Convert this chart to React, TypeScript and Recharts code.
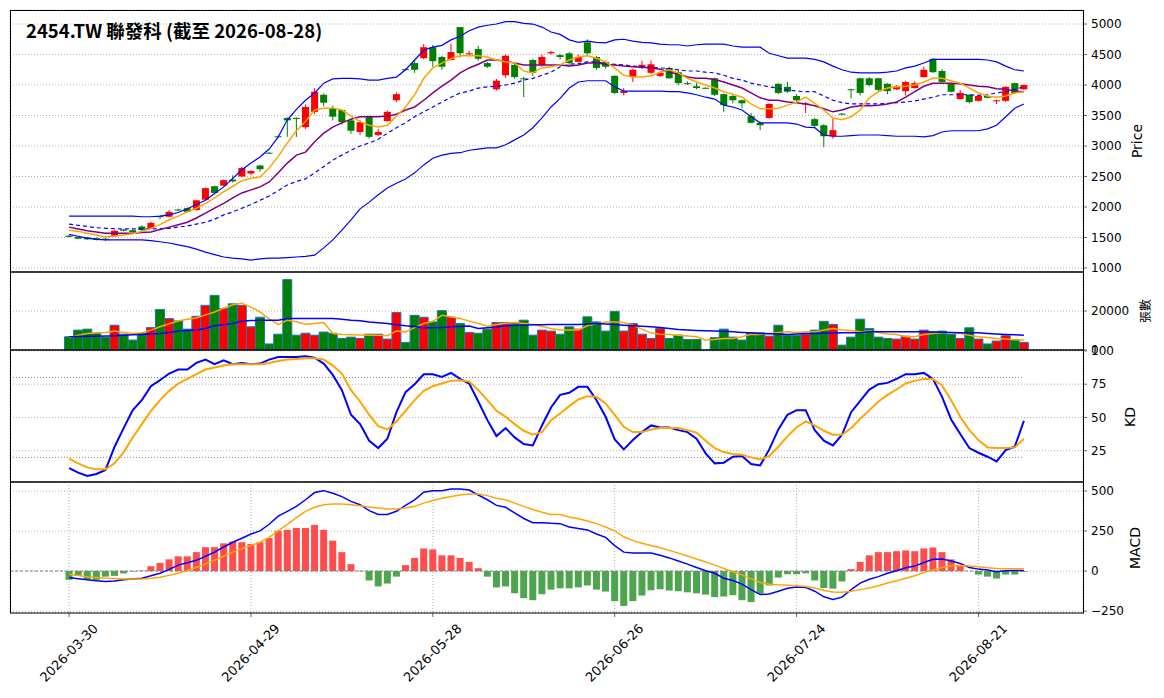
import React from "react";
import { ComposedChart, Bar, Line, XAxis, YAxis, CartesianGrid, Cell, ReferenceLine } from "recharts";

const tickIdx = [0, 20, 40, 60, 80, 100];
const tickLabels = ["2026-03-30", "2026-04-29", "2026-05-28", "2026-06-26", "2026-07-24", "2026-08-21"];

const open = [1530,1510,1500,1490,1480,1530,1630,1620,1680,1650, 1850,1840,1960,1980,1950,2120,2340,2350,2450,2500, 2550,2680,2890,3160,3460,3460,3310,3560,3840,3620, 3590,3420,3230,3480,3180,3410,3750,4260,4360,4440, 4620,4460,4410,4950,4510,4590,4360,3930,4160,4330, 4110,4410,4330,4520,4490,4520,4380,4700,4460,4380, 4150,3870,4130,4280,4200,4150,4280,4210,4030,3980, 3955,4110,3850,3820,3750,3490,3380,3460,4020,3970, 3820,3680,3440,3340,3160,3530,3930,4110,4110,4110, 4020,3930,3900,3950,4130,4430,4230,4030,3770,3840, 3740,3820,3740,3740,4030,3930];
const close = [1510,1480,1470,1460,1470,1610,1610,1590,1620,1740, 1840,1920,1950,1920,2110,2310,2230,2440,2420,2640, 2590,2620,2880,3150,3420,3450,3640,3890,3710,3480, 3390,3250,3390,3150,3230,3560,3850,4250,4250,4620, 4390,4300,4540,4520,4520,4430,4300,4070,4480,4130, 4100,4200,4460,4540,4460,4360,4460,4520,4280,4300, 3870,3900,4250,4330,4340,4200,4110,4030,4020,3950, 3950,3840,3670,3750,3700,3380,3340,3690,3870,3890, 3750,3700,3330,3160,3260,3520,3920,3870,4000,3920, 3900,3980,4050,4030,4250,4210,4050,3890,3870,3720, 3820,3790,3750,3970,3870,4000];
const high = [1540,1520,1510,1500,1490,1620,1640,1630,1700,1760, 1860,1950,1970,1990,2120,2320,2350,2450,2520,2660, 2600,2690,2900,3170,3470,3470,3680,3950,3860,3660, 3600,3450,3420,3500,3280,3580,3880,4270,4400,4670, 4660,4480,4680,4950,4560,4640,4380,4100,4500,4370, 4130,4430,4500,4560,4510,4540,4500,4750,4480,4400, 4160,3950,4270,4400,4400,4230,4300,4250,4060,4030, 3960,4120,3860,3840,3760,3540,3400,3700,4030,4050, 3850,3720,3460,3360,3450,3540,3940,4120,4130,4120, 4030,4000,4070,4060,4300,4440,4260,4040,3920,3850, 3830,3830,3760,3980,4040,4010];
const low = [1500,1470,1460,1450,1440,1520,1600,1580,1610,1640, 1800,1830,1930,1910,1940,2110,2210,2340,2400,2490, 2520,2580,2870,3140,3150,3150,3280,3520,3650,3420, 3350,3200,3180,3120,3160,3400,3720,4240,4200,4420, 4300,4250,4400,4450,4480,4400,4280,3910,4120,4100, 3800,4150,4300,4500,4420,4300,4370,4500,4250,4270, 3850,3830,4050,4260,4180,4130,4100,4000,4000,3930, 3940,3820,3560,3700,3620,3370,3260,3450,3850,3870, 3730,3540,3300,2980,3120,3510,3780,3830,3980,3900, 3850,3920,3830,3940,4120,4200,4030,3880,3760,3700, 3730,3780,3690,3720,3860,3920];
const ma5 = [1620,1600,1570,1540,1510,1520,1540,1560,1600,1650, 1710,1790,1850,1920,1980,2060,2150,2250,2340,2430, 2470,2490,2640,2830,3050,3250,3400,3590,3620,3625, 3590,3490,3400,3340,3310,3340,3490,3640,3840,4110, 4280,4360,4430,4480,4480,4480,4460,4410,4380,4360, 4230,4200,4280,4300,4330,4410,4460,4480,4440,4380, 4280,4160,4130,4130,4150,4210,4250,4200,4110,4050, 4000,3950,3890,3850,3800,3690,3610,3610,3620,3670, 3720,3800,3700,3590,3460,3430,3480,3590,3790,3890, 3950,3970,3980,4000,4050,4110,4110,4070,4030,3950, 3870,3820,3800,3820,3870,3890];
const ma10 = [1670,1640,1610,1590,1570,1570,1570,1570,1580,1590, 1630,1670,1710,1750,1820,1900,1980,2060,2150,2230, 2280,2330,2410,2560,2720,2850,2900,3070,3210,3310, 3380,3440,3480,3480,3480,3490,3520,3590,3640,3750, 3870,3980,4080,4200,4280,4340,4410,4410,4390,4360, 4330,4330,4330,4330,4330,4310,4330,4360,4360,4340, 4330,4310,4300,4290,4280,4260,4210,4180,4130,4110, 4110,4090,4050,4000,3950,3870,3790,3750,3750,3720, 3710,3690,3660,3610,3560,3590,3640,3660,3660,3670, 3690,3720,3800,3890,3980,4030,4030,4030,4020,4000, 3980,3970,3940,3930,3900,3890];
const bbMid = [1720,1700,1680,1660,1650,1645,1640,1640,1640,1640, 1645,1650,1670,1690,1720,1750,1800,1870,1920,1980, 2040,2110,2180,2270,2360,2420,2460,2560,2660,2770, 2850,2930,3000,3050,3110,3210,3300,3380,3480,3560, 3640,3720,3800,3870,3900,3950,3970,3980,4000,4030, 4080,4110,4160,4210,4300,4340,4350,4380,4380,4350, 4340,4330,4310,4300,4290,4280,4270,4250,4230,4230, 4210,4200,4160,4110,4080,4030,4000,3970,3950,3920, 3900,3890,3890,3820,3750,3710,3690,3690,3690,3690, 3700,3710,3720,3740,3770,3800,3840,3840,3840,3840, 3830,3840,3870,3890,3930,3970];
const bbUp = [1850,1850,1850,1850,1850,1850,1850,1850,1840,1840, 1850,1870,1910,1970,2040,2110,2220,2330,2470,2610, 2720,2820,2950,3150,3430,3600,3750,3870,4030,4100, 4110,4110,4100,4080,4080,4110,4130,4250,4410,4570, 4620,4650,4740,4800,4890,4950,4980,5000,5040,5040, 5010,5000,4950,4870,4830,4740,4700,4720,4700,4690, 4740,4750,4720,4700,4690,4670,4660,4660,4640,4660, 4670,4670,4670,4640,4620,4620,4620,4520,4480,4440, 4440,4440,4420,4380,4310,4250,4210,4200,4200,4200, 4210,4230,4280,4310,4360,4420,4420,4420,4420,4420, 4420,4410,4380,4310,4250,4230];
const bbLow = [1550,1520,1490,1470,1460,1460,1460,1460,1460,1450, 1430,1410,1380,1350,1310,1260,1220,1180,1160,1150, 1130,1150,1160,1160,1170,1180,1190,1210,1330,1460, 1620,1790,1970,2080,2200,2310,2390,2460,2560,2690, 2800,2850,2880,2890,2930,2950,2970,2970,3020,3100, 3180,3300,3460,3640,3780,3950,4050,4070,4070,4070, 3970,3900,3900,3900,3900,3900,3890,3890,3870,3840, 3800,3770,3670,3640,3590,3480,3380,3380,3380,3380, 3360,3310,3300,3180,3160,3160,3170,3180,3180,3180, 3170,3160,3160,3160,3150,3170,3230,3250,3250,3250, 3250,3280,3340,3480,3620,3690];
const volume = [6800,10200,10700,8500,6600,12700,8100,5100,8500,11500, 20800,16100,14900,10700,17300,22900,28000,21200,23700,22900, 11900,16800,3100,8100,36100,7600,8600,7600,9200,8600, 5900,6600,5900,8100,8100,5600,19200,3900,17800,16800, 14400,20200,16800,13600,9000,8600,10700,14100,14100,14100, 15300,7600,10200,9700,8100,11900,10700,17000,14400,9700, 19800,9700,13600,8100,5900,11000,5900,7600,5400,5400, 0,6300,10700,6600,5100,8800,8800,7100,12700,7600, 7600,8000,10200,14700,13100,2500,6600,15800,11000,6600, 5900,5600,7100,5600,10200,9300,9700,8100,5900,11400, 5600,3100,4600,7300,5100,3900];
const volMa5 = [6300,7600,8500,8800,9000,9800,9000,8500,8800,10200, 11900,13500,14900,15800,16400,18000,19500,21500,23200,24000, 22000,19500,16000,13000,15300,14500,13200,13600,14100,8500, 8000,7800,7700,7600,7500,7300,9700,9300,11500,13600, 14700,17800,17000,16100,14800,13600,12200,13100,13700,14100, 13600,13100,12000,11000,10200,10200,10200,12400,13500,14400, 14400,14100,12700,10700,8800,8100,7900,7600,7200,6800, 5100,5400,5900,5900,6800,8100,8000,8500,9000,9300, 9000,9300,9300,10200,11000,10200,10000,9300,9700,9000, 8200,8000,6800,6800,8000,8500,8800,9000,8500,7500, 6800,6400,5900,5600,5300,5100];
const volMa20 = [6800,6900,7000,7100,7200,7300,7600,7800,8000,8300, 8500,9000,9700,10000,10200,11000,12400,13000,13600,14700, 15100,15200,15300,15300,16100,16100,16100,16100,16100,16100, 15800,15300,15000,14400,14000,13600,13000,12400,12000,11400, 11400,11600,11900,12100,12300,11000,11400,11800,12400,12600, 12700,12900,13000,13100,13100,13100,13100,13300,13600,13300, 13100,12700,12400,12200,11900,11500,11000,10500,10200,10000, 9900,9800,9600,9300,9000,8800,8500,8300,8200,8000, 8200,8400,8500,8600,8700,8800,8900,9000,9300,9300, 9300,9300,9300,9300,9300,9200,9100,9000,8900,8800, 8800,8500,8200,8000,7800,7600];
const kVals = [12,8.5,6,7.5,10.5,28,42,55.5,63,73.5, 78,83,86,86,91,93.5,90,93,90,91, 90,90.5,93.5,95.5,95.5,95.5,96,95,90.5,82, 70.5,52,45,32.5,27,34,54,69,75,82.5, 82.5,80.5,83.5,79,75.5,62,48,36,42,35, 30,29,44,57.5,67,68.5,73,73,63,50.5, 33.5,26,33,39,44,42.5,42.5,40.5,39,34, 23,15.5,16,20.5,21,15,14,26,41,52, 55.5,55.5,40.5,32.5,29,37,54,62.5,71,75, 76,79,82.5,82.5,83.5,79,65.5,48.5,37.5,27, 23.5,20.5,17,25.5,28,47.5];
const dVals = [19,15.5,12.5,11,11,15.5,24,35,45,55, 63,70,75.5,79,82.5,86,87.5,89,90,90, 90,90,91,92.5,93.5,94,94.5,94.5,93.5,89, 83,70.5,62,52,43.5,41,47,55,63,70, 73.5,75.5,77.5,78,77,70.5,63,55,50.5,45, 40,37,39,48,53,58.5,63.5,66,65.5,60.5, 52,43,39,39,41,42,42,42,40.5,38.5, 32.5,27,24,22.5,22,20,18.5,21,28,36, 42.5,47,44,40,37,37,42,49,55.5,62, 67,71,75.5,77.5,79,79,74,63,50.5,40.5, 33,27.5,27,27,27.5,34];
const macd = [-41,-48,-55,-60,-65,-62,-55,-50,-45,-30, -14,10,37,52,67,92,118,150,180,205, 231,251,292,343,373,404,445,490,502,486, 465,435,414,377,353,353,373,410,445,492, 502,502,512,512,506,475,445,410,398,363, 328,302,302,298,296,275,265,257,231,210, 159,118,112,112,112,98,82,63,43,22, 2,-14,-45,-59,-82,-116,-147,-143,-126,-108, -100,-102,-126,-161,-177,-163,-116,-75,-51,-35, -14,2,20,31,53,73,75,63,47,22, 12,6,-4,2,4,4];
const signal = [-20,-28,-35,-40,-45,-47,-49,-49,-49,-45, -39,-27,-14,4,22,45,67,92,118,140, 159,180,210,251,292,333,373,398,414,418, 418,414,408,400,394,388,388,394,404,424, 441,455,465,475,481,481,471,455,445,424, 404,384,367,353,353,337,326,312,296,275, 251,214,190,173,159,145,129,112,94,75, 57,37,16,-4,-24,-49,-71,-82,-86,-88, -92,-96,-106,-122,-131,-133,-126,-116,-106,-92, -75,-61,-45,-29,-10,6,22,31,35,31, 27,20,16,14,14,14];
const hist = [-55,-30,-55,-55,-35,-30,-15,-3,3,30, 51,73,92,92,118,149,149,173,184,180, 169,180,206,251,257,269,269,288,257,190, 118,43,-2,-59,-96,-78,-35,37,82,141, 135,98,98,82,57,18,-35,-102,-96,-139, -169,-182,-145,-116,-108,-108,-102,-90,-116,-128, -188,-218,-188,-153,-120,-114,-122,-126,-133,-139, -147,-163,-159,-151,-182,-194,-141,-90,-41,-20, -20,-14,-59,-106,-110,-65,12,57,98,118, 118,124,129,124,141,147,118,73,37,0, -22,-35,-47,-22,-22,-4];

const rows = open.map((o, i) => ({
  i, o, c: close[i], h: high[i], l: low[i], hl: [low[i], high[i]],
  ma5: ma5[i], ma10: ma10[i], mid: bbMid[i], up: bbUp[i], lo: bbLow[i],
  vol: volume[i], v5: volMa5[i], v20: volMa20[i],
  k: kVals[i], d: dVals[i], macd: macd[i], sig: signal[i], hist: hist[i],
}));

const RED = "#ff0000";
const GREEN = "#008000";
const FONT = "DejaVu Sans";
const W = 1164;
const X_DOMAIN: [number, number] = [-6.5, 111.5];
const tickStyle = { fontSize: 12, fill: "#000", fontFamily: FONT };
const minus = (v: number) => (v < 0 ? "\u2212" + Math.abs(v) : String(v));

const Candle = (props: any) => {
  const { x, y, width, height, payload } = props;
  const { o, c, h, l } = payload;
  const sc = (v: number) => (h === l ? y : y + ((h - v) / (h - l)) * height);
  const top = sc(Math.max(o, c));
  const bot = sc(Math.min(o, c));
  const col = c >= o ? RED : GREEN;
  const cx = x + width / 2;
  return (
    <g>
      <line x1={cx} x2={cx} y1={y} y2={y + height} stroke={col} strokeWidth={1} />
      <rect x={x} y={top} width={width} height={Math.max(1, bot - top)} fill={col} />
    </g>
  );
};

// date labels are centred under the tick, rotated 45 degrees
const DateTick = (props: any) => {
  const { x, y, payload } = props;
  const idx = tickIdx.indexOf(payload.value);
  const cx = x + 3;
  const cy = y + 37;
  return (
    <text x={cx} y={cy} textAnchor="middle" transform={`rotate(-45, ${cx}, ${cy})`} fontSize={13} fontFamily={FONT} fill="#000">
      {tickLabels[idx]}
    </text>
  );
};

const grid = <CartesianGrid strokeDasharray="1 2" stroke="#b0b0b0" />;
const hiddenX = (
  <XAxis type="number" dataKey="i" domain={X_DOMAIN} ticks={tickIdx} tick={false} axisLine={false} tickLine={false} height={0} />
);
const margin = { top: 0, right: 0, bottom: 0, left: 10 };

export default function App() {
  return (
    <div style={{ position: "absolute", left: 0, top: 0, width: W, height: 698, background: "#fff" }}>
      <style>{"svg{overflow:visible}"}</style>
      <div style={{ position: "absolute", left: 0, top: 10 }}>
        <ComposedChart width={W} height={262} data={rows} margin={margin}>
          {grid}
          {hiddenX}
          <YAxis orientation="right" width={81} domain={[934, 5230]} ticks={[1000, 1500, 2000, 2500, 3000, 3500, 4000, 4500, 5000]} interval={0} tick={tickStyle} tickSize={4} tickMargin={4} axisLine={false} allowDataOverflow />
          <Line dataKey="up" stroke="blue" strokeWidth={1.2} dot={false} isAnimationActive={false} />
          <Line dataKey="lo" stroke="blue" strokeWidth={1.2} dot={false} isAnimationActive={false} />
          <Line dataKey="mid" stroke="blue" strokeWidth={1.2} strokeDasharray="4 3" dot={false} isAnimationActive={false} />
          <Line dataKey="ma10" stroke="purple" strokeWidth={1.5} dot={false} isAnimationActive={false} />
          <Line dataKey="ma5" stroke="orange" strokeWidth={1.5} dot={false} isAnimationActive={false} />
          <Bar dataKey="hl" barSize={7} shape={Candle} isAnimationActive={false} />
        </ComposedChart>
      </div>
      <div style={{ position: "absolute", left: 0, top: 272 }}>
        <ComposedChart width={W} height={78} data={rows} margin={margin}>
          {grid}
          {hiddenX}
          <YAxis orientation="right" width={81} domain={[0, 40000]} ticks={[0, 20000]} interval={0} tick={tickStyle} tickSize={4} tickMargin={4} axisLine={false} />
          <Bar dataKey="vol" barSize={9} stroke="#1f77b4" strokeWidth={1} isAnimationActive={false}>
            {rows.map((r, i) => (
              <Cell key={i} fill={r.c >= r.o ? RED : GREEN} />
            ))}
          </Bar>
          <Line dataKey="v5" stroke="orange" strokeWidth={1.5} dot={false} isAnimationActive={false} />
          <Line dataKey="v20" stroke="blue" strokeWidth={1.5} dot={false} isAnimationActive={false} />
        </ComposedChart>
      </div>
      <div style={{ position: "absolute", left: 0, top: 350 }}>
        <ComposedChart width={W} height={132} data={rows} margin={margin}>
          {grid}
          {hiddenX}
          <YAxis orientation="right" width={81} domain={[1.5, 100.7]} ticks={[25, 50, 75, 100]} interval={0} tick={tickStyle} tickSize={4} tickMargin={4} axisLine={false} />
          <ReferenceLine segment={[{ x: -6.5, y: 80 }, { x: 105, y: 80 }]} stroke="#888" strokeDasharray="1 2" />
          <ReferenceLine segment={[{ x: -6.5, y: 20 }, { x: 105, y: 20 }]} stroke="#888" strokeDasharray="1 2" />
          <Line dataKey="k" stroke="blue" strokeWidth={2} dot={false} isAnimationActive={false} />
          <Line dataKey="d" stroke="orange" strokeWidth={2} dot={false} isAnimationActive={false} />
        </ComposedChart>
      </div>
      <div style={{ position: "absolute", left: 0, top: 482 }}>
        <ComposedChart width={W} height={216} data={rows} margin={margin}>
          {grid}
          <XAxis type="number" dataKey="i" domain={X_DOMAIN} ticks={tickIdx} interval={0} tick={<DateTick />} tickSize={4} axisLine={false} height={85} />
          <YAxis orientation="right" width={81} domain={[-262, 556]} ticks={[-250, 0, 250, 500]} interval={0} tickFormatter={minus} tick={tickStyle} tickSize={4} tickMargin={4} axisLine={false} />
          <ReferenceLine segment={[{ x: -6.5, y: 0 }, { x: 105, y: 0 }]} stroke="#808080" strokeDasharray="3 2" />
          <Bar dataKey="hist" barSize={7} isAnimationActive={false}>
            {rows.map((r, i) => (
              <Cell key={i} fill={r.hist >= 0 ? "#ff4d4d" : "#4da64d"} />
            ))}
          </Bar>
          <Line dataKey="macd" stroke="blue" strokeWidth={1.5} dot={false} isAnimationActive={false} />
          <Line dataKey="sig" stroke="orange" strokeWidth={1.5} dot={false} isAnimationActive={false} />
        </ComposedChart>
      </div>
      <svg width={W} height={698} style={{ position: "absolute", left: 0, top: 0, pointerEvents: "none" }}>
        <rect x={10.5} y={10.5} width={1073} height={261.5} fill="none" stroke="#000" />
        <rect x={10.5} y={272} width={1073} height={78} fill="none" stroke="#000" />
        <rect x={10.5} y={350} width={1073} height={132} fill="none" stroke="#000" />
        <rect x={10.5} y={482} width={1073} height={131} fill="none" stroke="#000" />
        <text x={26} y={38} fontFamily="Noto Sans CJK TC" fontWeight="bold" fontSize={18.5} fill="#000">
          2454.TW 聯發科 (截至 2026-08-28)
        </text>
        <text x={1142} y={141} transform="rotate(-90, 1142, 141)" textAnchor="middle" fontFamily={FONT} fontSize={14}>Price</text>
        <text x={1150} y={311} transform="rotate(-90, 1150, 311)" textAnchor="middle" fontFamily="Noto Sans CJK TC" fontSize={12}>張數</text>
        <text x={1135} y={417} transform="rotate(-90, 1135, 417)" textAnchor="middle" fontFamily={FONT} fontSize={14}>KD</text>
        <text x={1140} y={548} transform="rotate(-90, 1140, 548)" textAnchor="middle" fontFamily={FONT} fontSize={14}>MACD</text>
      </svg>
    </div>
  );
}
